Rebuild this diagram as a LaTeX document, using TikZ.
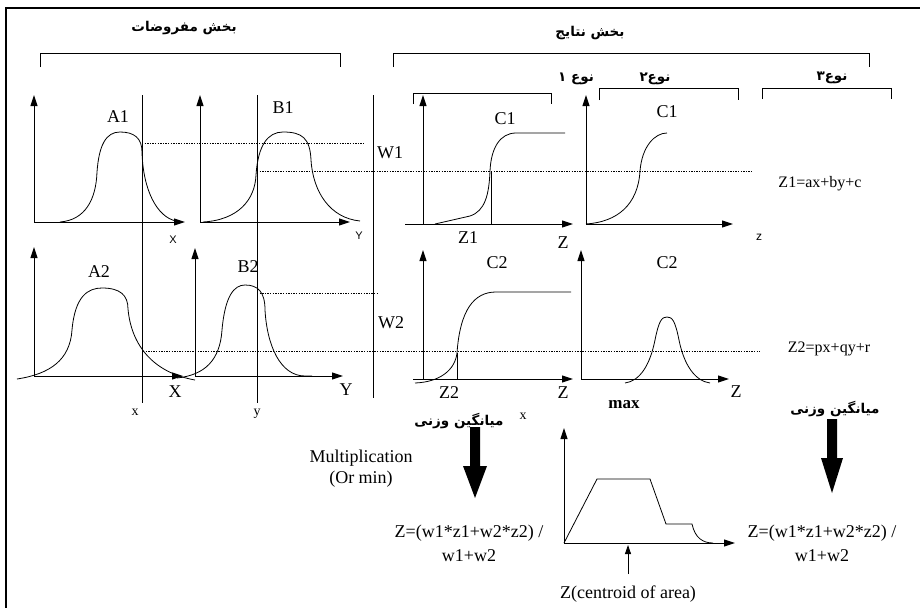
\documentclass[tikz,border=0pt]{standalone}
\usepackage{fontspec}
\setmainfont{Liberation Serif}
\setsansfont{Liberation Sans}
\newfontfamily\fa[Script=Arabic]{DejaVu Sans}
\TeXXeTstate=1
\usetikzlibrary{arrows.meta}
\begin{document}
\begin{tikzpicture}[x=1pt,y=-1pt,
  ax/.style={line width=1pt,-{Triangle[length=11pt,width=7pt]}},
  crv/.style={line width=0.8pt},
  vl/.style={line width=1pt},
  dt/.style={line width=1pt,dash pattern=on 1.3pt off 1.3pt},
  brk/.style={line width=1pt},
  lbl/.style={inner sep=0pt,font=\fontsize{18}{21}\selectfont},
  sml/.style={inner sep=0pt,font=\sffamily\fontsize{11}{13}\selectfont},
  smls/.style={inner sep=0pt,font=\fontsize{14}{16}\selectfont},
  fal/.style={inner sep=0pt,font=\fa\bfseries\fontsize{13.5}{16}\selectfont},
  eq/.style={inner sep=0pt,align=center,font=\fontsize{18}{24}\selectfont}]
\useasboundingbox (0,0) rectangle (920,608);
% frame
\draw[line width=2.5pt] (5,8) -- (920,8);
\draw[line width=2.5pt] (6,8) -- (6,608);

% headers
\node[fal] (hL) at (184,28) {\beginR بخش مفروضات\endR};
\node[fal] (hR) at (590,33) {\beginR بخش نتایج\endR};
\draw[brk] (40,67) -- (40,53) -- (340,53) -- (340,67);
\draw[brk] (393,67) -- (393,53) -- (869,53) -- (869,67);
\node[fal] (t1) at (576,79) {\beginR نوع ۱\endR};
\node[fal] (t2) at (655,79) {\beginR نوع۲\endR};
\node[fal] (t3) at (832,78) {\beginR نوع۳\endR};
\draw[brk] (413,104) -- (413,93) -- (551,93) -- (551,104);
\draw[brk] (599,100) -- (599,88) -- (738,88) -- (738,100);
\draw[brk] (762,99) -- (762,88) -- (891,88) -- (891,99);

% ---- A1
\draw[ax] (34,222) -- (34,95);
\draw[ax] (34,222) -- (185,222);
\draw[crv] (60,222) .. controls (85,220) and (96,200) .. (97,172)
  .. controls (99,145) and (106,132) .. (120,132)
  .. controls (134,132) and (142,138) .. (142,152)
  .. controls (143,190) and (157,217) .. (176,221);
\node[lbl] (A1) at (118,117) {A1};
\node[sml] (X1) at (173,240) {X};
% ---- B1
\draw[ax] (200,222) -- (200,95);
\draw[ax] (200,222) -- (350,222);
\draw[crv] (203,222) .. controls (238,220) and (255,200) .. (256,175)
  .. controls (258,145) and (268,132) .. (283,132)
  .. controls (302,132) and (310,138) .. (311,160)
  .. controls (313,192) and (330,218) .. (360,221);
\node[lbl] (B1) at (283,108) {B1};
\node[sml] (Y1) at (359,236) {Y};

% vertical lines
\draw[vl] (142,95) -- (142,403);
\draw[vl] (257,95) -- (257,403);
\draw[vl] (373,95) -- (373,398);
\node[smls] (xl) at (135,412) {x};
\node[smls] (yl) at (257,414) {y};

% dotted lines upper
\draw[dt] (142,143) -- (365,143);
\draw[dt] (257,171) -- (753,171);
\node[lbl] (W1) at (390,153) {W1};

% ---- A2
\draw[ax] (34,376) -- (34,247);
\draw[ax] (34,376) -- (183,376);
\draw[crv] (17,379) .. controls (50,374) and (70,360) .. (72,330)
  .. controls (75,296) and (88,288) .. (102,288)
  .. controls (120,288) and (128,295) .. (128,309)
  .. controls (131,342) and (150,372) .. (195,380);
\node[lbl] (A2) at (99,272) {A2};
\node[lbl] (X2) at (175,392) {X};
% ---- B2
\draw[ax] (195,376) -- (195,248);
\draw[ax] (195,376) -- (343,376);
\draw[crv] (177,378) .. controls (205,375) and (220,360) .. (222,330)
  .. controls (225,296) and (234,285) .. (245,285)
  .. controls (258,285) and (265,292) .. (265,310)
  .. controls (267,345) and (280,376) .. (305,376) -- (312,376);
\node[lbl] (B2) at (248,267) {B2};
\node[lbl] (Y2) at (346,390) {Y};

% dotted lines lower
\draw[dt] (257,293) -- (377,293);
\draw[dt] (143,351) -- (760,351);
\node[lbl] (W2) at (391,323) {W2};

% ---- C1 type 1
\draw[ax] (423,224) -- (423,95);
\draw[ax] (405,224) -- (573,224);
\draw[crv] (435,224) -- (470,216) .. controls (485,211) and (489,195) .. (490,171)
  .. controls (491,148) and (500,133) .. (516,133) -- (565,133);
\draw[vl] (491,171) -- (491,224);
\node[lbl] (C1a) at (505,119) {C1};
\node[lbl] (Z1) at (468,238) {Z1};
\node[lbl] (Za) at (563,243) {Z};
% ---- C1 type 2
\draw[ax] (586,224) -- (586,95);
\draw[ax] (586,224) -- (733,224);
\draw[crv] (586,224) .. controls (617,222) and (638,205) .. (640,171)
  .. controls (642,146) and (655,133) .. (667,133);
\node[lbl] (C1b) at (667,112) {C1};
\node[inner sep=0pt,font=\sffamily\fontsize{12}{14}\selectfont] (zb) at (759,237) {z};
\node[inner sep=0pt,font=\fontsize{16}{18}\selectfont] (eq1) at (820,184) {Z1=ax+by+c};

% ---- C2 type 1
\draw[ax] (423,379) -- (423,250);
\draw[ax] (413,379) -- (573,379);
\draw[crv] (415,383) .. controls (440,382) and (455,370) .. (457,353)
  .. controls (460,310) and (474,292) .. (496,292) -- (571,292);
\draw[vl] (457,353) -- (457,379);
\node[lbl] (C2a) at (497,263) {C2};
\node[lbl] (Z2) at (449,393) {Z2};
\node[lbl] (Zc) at (563,393) {Z};
% ---- C2 type 2
\draw[ax] (581,379) -- (581,250);
\draw[ax] (581,379) -- (729,379);
\draw[crv] (625,383) .. controls (640,381) and (650,365) .. (655,340)
  .. controls (659,320) and (662,317) .. (667,317)
  .. controls (672,317) and (675,320) .. (679,340)
  .. controls (684,365) and (695,381) .. (710,383);
\node[lbl] (C2b) at (667,263) {C2};
\node[lbl] (Zd) at (736,392) {Z};
\node[inner sep=0pt,font=\fontsize{16}{18}\selectfont] (eq2) at (829,349) {Z2=px+qy+r};

% bottom labels
\node[inner sep=0pt,font=\bfseries\fontsize{17}{20}\selectfont] (max) at (624,405) {max};
\node[fal] (mv1) at (459,421) {\beginR میانگین وزنی\endR};
\node[fal] (mv2) at (835,409) {\beginR میانگین وزنی\endR};
\node[smls] (xb) at (523,416) {x};
\node[lbl,align=center] (mult) at (361,469) {Multiplication\\(Or min)};

% thick arrows
\fill (470,427) -- (480,427) -- (480,466) -- (487,466) -- (475,498) -- (463,466) -- (470,466) -- cycle;
\fill (827,419) -- (837,419) -- (837,458) -- (843,458) -- (832,493) -- (821,458) -- (827,458) -- cycle;

% formulas
\node[eq] (f1) at (469,543) {Z=(w1*z1+w2*z2) /\\w1+w2};
\node[eq] (f2) at (822,543) {Z=(w1*z1+w2*z2) /\\w1+w2};

% trapezoid
\draw[ax] (564,543) -- (564,428);
\draw[ax] (564,543) -- (735,543);
\draw[crv] (564,543) -- (597,479) -- (650,479) -- (666,524) -- (692,524)
  .. controls (695,538) and (703,543) .. (713,543);
\coordinate (cb) at (628,574);
\draw[line width=0.8pt,-{Triangle[length=9pt,width=6pt]}] (cb) -- (628,545);
\node[lbl] (cent) at (628,594) {Z(centroid of area)};
\end{tikzpicture}
\end{document}
